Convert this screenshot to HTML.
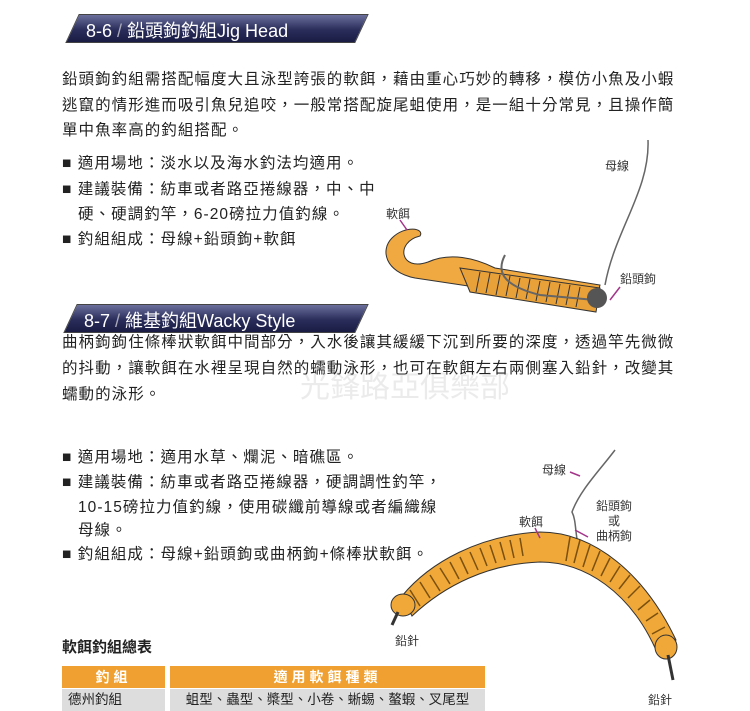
<!DOCTYPE html>
<html><head><meta charset="utf-8"><style>
body{margin:0;width:750px;height:709px;background:#fff;position:relative;overflow:hidden;font-family:"Liberation Sans","Noto Sans CJK TC",sans-serif;color:#222}
.a{position:absolute;white-space:nowrap}
.p{font-size:15.5px;letter-spacing:1.05px}
.hd{position:absolute;height:27px;background:linear-gradient(#6a6f9c,#2a2d5a 55%,#1a1c44);transform:skewX(-25deg);border:1px solid #444}
.ht{position:absolute;color:#fff;font-size:18px;white-space:nowrap}
.lb{position:absolute;font-size:12px;color:#333;white-space:nowrap}
</style></head><body>
<div class="hd" style="left:72px;top:14px;width:288px"></div>
<div class="ht" style="left:86px;top:17px">8-6 <span style="color:#aab">/</span> 鉛頭鉤釣組Jig Head</div>
<div class="a p" style="left:62px;top:67px">鉛頭鉤釣組需搭配幅度大且泳型誇張的軟餌，藉由重心巧妙的轉移，模仿小魚及小蝦</div>
<div class="a p" style="left:62px;top:93px">逃竄的情形進而吸引魚兒追咬，一般常搭配旋尾蛆使用，是一組十分常見，且操作簡</div>
<div class="a p" style="left:62px;top:118px">單中魚率高的釣組搭配。</div>
<div class="a p" style="left:62px;top:151px">■ 適用場地：淡水以及海水釣法均適用。</div>
<div class="a p" style="left:62px;top:177px">■ 建議裝備：紡車或者路亞捲線器，中、中</div>
<div class="a p" style="left:78px;top:202px">硬、硬調釣竿，6-20磅拉力值釣線。</div>
<div class="a p" style="left:62px;top:227px">■ 釣組組成：母線+鉛頭鉤+軟餌</div>
<div class="hd" style="left:70px;top:304px;width:290px"></div>
<div class="ht" style="left:84px;top:307px">8-7 <span style="color:#aab">/</span> 維基釣組Wacky Style</div>
<div class="a p" style="left:62px;top:330px">曲柄鉤鉤住條棒狀軟餌中間部分，入水後讓其緩緩下沉到所要的深度，透過竿先微微</div>
<div class="a p" style="left:62px;top:356px">的抖動，讓軟餌在水裡呈現自然的蠕動泳形，也可在軟餌左右兩側塞入鉛針，改變其</div>
<div class="a p" style="left:62px;top:382px">蠕動的泳形。</div>
<div class="a" style="left:300px;top:362px;font-size:30px;color:rgba(120,120,120,0.15)">光鋒路亞俱樂部</div>
<div class="a p" style="left:62px;top:445px">■ 適用場地：適用水草、爛泥、暗礁區。</div>
<div class="a p" style="left:62px;top:470px">■ 建議裝備：紡車或者路亞捲線器，硬調調性釣竿，</div>
<div class="a p" style="left:78px;top:495px">10-15磅拉力值釣線，使用碳纖前導線或者編織線</div>
<div class="a p" style="left:78px;top:518px">母線。</div>
<div class="a p" style="left:62px;top:542px">■ 釣組組成：母線+鉛頭鉤或曲柄鉤+條棒狀軟餌。</div>
<div class="a" style="left:62px;top:636px;font-size:15px;font-weight:bold">軟餌釣組總表</div>
<div class="a" style="left:62px;top:666px;width:103px;height:22px;background:#f0a030;color:#fff;text-align:center;font-size:14px;line-height:22px;font-weight:bold;letter-spacing:4px">釣組</div>
<div class="a" style="left:170px;top:666px;width:315px;height:22px;background:#f0a030;color:#fff;text-align:center;font-size:14px;line-height:22px;font-weight:bold;letter-spacing:4px">適用軟餌種類</div>
<div class="a" style="left:62px;top:689px;width:103px;height:22px;background:#ddd;font-size:13.5px;line-height:22px;padding-left:6px;box-sizing:border-box">德州釣組</div>
<div class="a" style="left:170px;top:689px;width:315px;height:22px;background:#ddd;font-size:13.5px;line-height:22px;text-align:center">蛆型、蟲型、槳型、小卷、蜥蜴、螯蝦、叉尾型</div>
<svg class="a" style="left:0;top:0" width="750" height="709">
<path d="M648 140 C650 190 615 230 605 285" stroke="#666" stroke-width="1.5" fill="none"/>
<path d="M392 238 C405 225 425 228 420 236 C395 242 400 272 428 262 C450 252 475 258 495 268 L600 285 L595 305 L415 278 C385 272 380 250 392 238Z" fill="#f0a840" stroke="#333"/>
<path d="M460 268 L600 288 L596 312 L470 292Z" fill="#e8a038" stroke="#333"/>
<g stroke="#333" stroke-width="1"><path d="M480 272 l-4 20M490 273 l-4 20M500 275 l-4 20M510 276 l-4 20M520 278 l-4 20M530 279 l-4 20M540 281 l-4 20M550 282 l-4 20M560 284 l-4 20M570 285 l-4 20M580 287 l-4 20"/></g>
<path d="M505 255 C497 270 500 285 540 295 L595 300" stroke="#666" stroke-width="2" fill="none"/>
<circle cx="597" cy="298" r="10" fill="#555"/>
<line x1="400" y1="220" x2="407" y2="230" stroke="#a3358a" stroke-width="1.5"/>
<line x1="620" y1="287" x2="610" y2="300" stroke="#a3358a" stroke-width="1.5"/>
<path d="M615 450 C600 470 580 490 572 512 C576 520 575 530 578 545" stroke="#666" stroke-width="1.5" fill="none"/>
<path d="M402 596 C430 562 480 535 540 532 C595 532 645 575 676 640 L656 650 C630 592 585 562 540 562 C488 564 445 585 412 616Z" fill="#f0a838" stroke="#333" stroke-width="1"/>
<g stroke="#7a5010" stroke-width="1.5" fill="none">
<path d="M410 590 l10 16M420 582 l10 16M430 575 l10 16M440 568 l10 16M450 562 l9 17M460 557 l8 17M470 552 l8 18M480 548 l7 18M490 545 l6 18M500 542 l5 18M510 540 l4 18M520 538 l3 18"/>
<path d="M570 537 l-4 24M580 540 l-6 23M590 545 l-7 22M600 551 l-8 20M610 558 l-9 18M620 566 l-10 16M630 575 l-11 14M640 586 l-12 12M650 600 l-12 10M658 613 l-12 8M665 627 l-13 7"/></g>
<ellipse cx="403" cy="605" rx="12" ry="11" fill="#f0a838" stroke="#333"/>
<ellipse cx="666" cy="647" rx="11" ry="12" fill="#f0a838" stroke="#333"/>
<line x1="398" y1="612" x2="392" y2="625" stroke="#333" stroke-width="3"/>
<line x1="668" y1="655" x2="673" y2="680" stroke="#333" stroke-width="3"/>
<line x1="570" y1="472" x2="580" y2="476" stroke="#a3358a" stroke-width="1.5"/>
<line x1="575" y1="530" x2="588" y2="537" stroke="#a3358a" stroke-width="1.5"/>
<line x1="535" y1="528" x2="540" y2="538" stroke="#a3358a" stroke-width="1.5"/>
</svg>
<div class="lb" style="left:605px;top:157px">母線</div>
<div class="lb" style="left:386px;top:205px">軟餌</div>
<div class="lb" style="left:620px;top:270px">鉛頭鉤</div>
<div class="lb" style="left:542px;top:461px">母線</div>
<div class="lb" style="left:519px;top:513px">軟餌</div>
<div class="lb" style="left:596px;top:499px;text-align:center;line-height:15px">鉛頭鉤<br>或<br>曲柄鉤</div>
<div class="lb" style="left:395px;top:632px">鉛針</div>
<div class="lb" style="left:648px;top:691px">鉛針</div>
</body></html>
